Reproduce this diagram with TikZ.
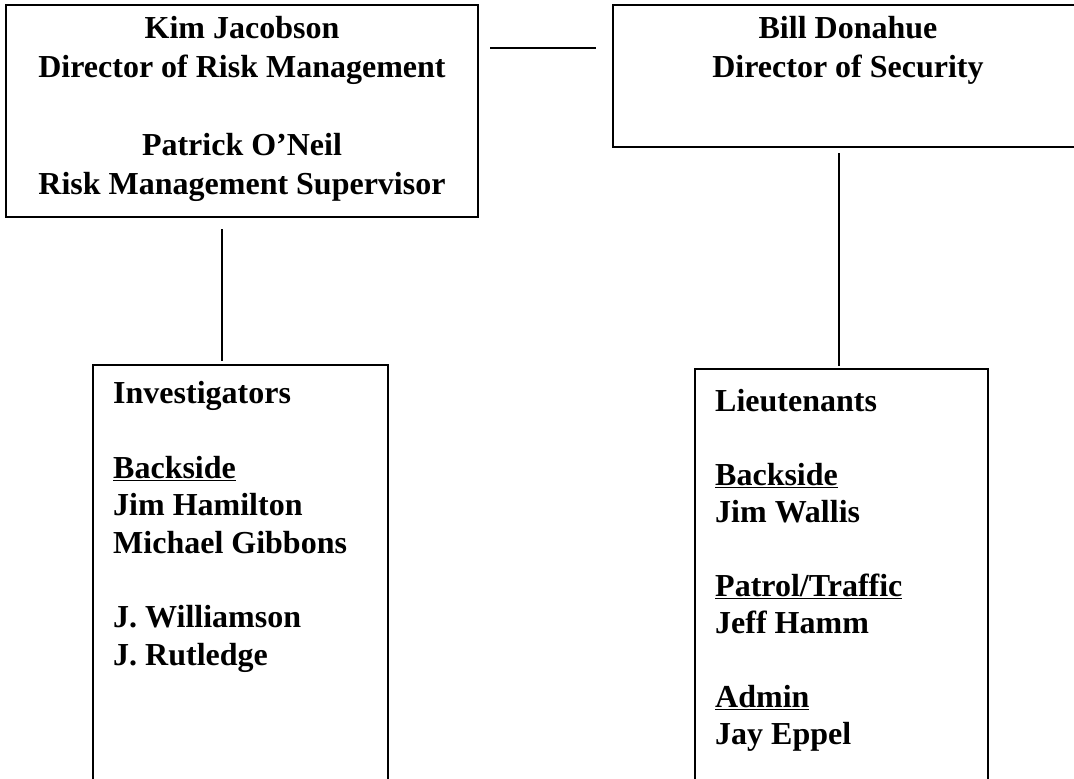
\documentclass[tikz,border=0pt]{standalone}
\usepackage{fontspec}
\setmainfont{Liberation Serif}
\tikzset{
  orgbox/.style={draw, line width=2pt, inner sep=0pt},
  orgtext/.style={inner sep=0pt, font=\fontsize{32}{39}\selectfont\bfseries},
  link/.style={draw, line width=1.8pt}
}
\begin{document}
\begin{tikzpicture}[x=1pt,y=1pt,yscale=-1,xscale=1]
\useasboundingbox (0,0) rectangle (1074,779);

%Shape: Rectangle [kim]
\node[orgbox, minimum width=472pt, minimum height=212pt] (kimbox) at (242,111) {};
%Shape: Rectangle [security]
\node[orgbox, minimum width=470pt, minimum height=142pt] (secbox) at (848,76) {};
%Shape: Rectangle [investigators]
\node[orgbox, minimum width=295pt, minimum height=435pt] (invbox) at (240.5,582.5) {};
%Shape: Rectangle [lieutenants]
\node[orgbox, minimum width=293pt, minimum height=431pt] (ltbox) at (841.5,584.5) {};

%Straight Lines (yshift follows yscale=-1)
\draw[link, shorten <=11pt, shorten >=16pt] ([yshift=44pt]kimbox.north east) -- ([yshift=44pt]secbox.north west);
%Straight Lines
\draw[link, shorten <=11pt, shorten >=3pt] ([xshift=-20pt]kimbox.south) -- ([xshift=-18.5pt]invbox.north);
%Straight Lines
\draw[link, shorten <=5pt, shorten >=2pt] ([xshift=-9pt]secbox.south) -- ([xshift=-2.5pt]ltbox.north);

% Text Node (anchor at last baseline)
\node[orgtext, anchor=base, align=center] (kimtext) at (242,194) {Kim Jacobson\\Director of Risk Management\\[39pt]Patrick O’Neil\\Risk Management Supervisor};
% Text Node
\node[orgtext, anchor=base, align=center] (sectext) at (848,77) {Bill Donahue\\Director of Security};
% Text Node
\node[orgtext, anchor=base west, align=left, font=\fontsize{32}{37.3}\selectfont\bfseries] (invtext) at (113,665) {Investigators\\[37.3pt]\underline{Backside}\\Jim Hamilton\\Michael Gibbons\\[37.3pt]J. Williamson\\J. Rutledge};
% Text Node
\node[orgtext, anchor=base west, align=left, font=\fontsize{32}{37}\selectfont\bfseries] (lttext) at (715,744) {Lieutenants\\[37pt]\underline{Backside}\\Jim Wallis\\[37pt]\underline{Patrol/Traffic}\\Jeff Hamm\\[37pt]\underline{Admin}\\Jay Eppel};
\end{tikzpicture}
\end{document}
